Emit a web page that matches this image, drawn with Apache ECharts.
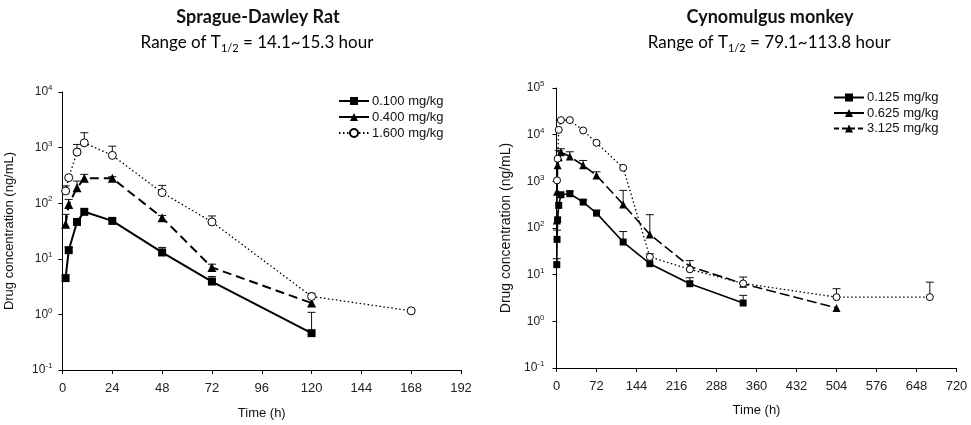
<!DOCTYPE html>
<html>
<head>
<meta charset="utf-8">
<script src="https://cdn.jsdelivr.net/npm/echarts@6/dist/echarts.min.js"></script>
<style>
html,body{margin:0;padding:0;background:#fff;}
#c{width:971px;height:425px;}
</style>
</head>
<body>
<div id="c"></div>
<script>
// ---------- Sprague-Dawley Rat ----------
const ratNames = ['0.100 mg/kg', '0.400 mg/kg', '1.600 mg/kg'];
const ratTime = [1.5, 3, 7, 10.5, 24, 48, 72, 120];
const ratTimeHigh = [1.5, 3, 7, 10.5, 24, 48, 72, 120, 168];
const ratLow = [4.5, 14.3, 46, 70, 48, 13, 3.9, 0.46];
const ratLowErr = [null, 16, null, null, null, 16, 4.8, 1.09];
const ratMid = [42, 95, 190, 280, 280, 55, 7, 1.6];
const ratMidErr = [63, 117, 250, 330, 300, 60, 8, null];
const ratHigh = [166, 288, 830, 1220, 725, 155, 46, 2.1, 1.16];
const ratHighErr = [205, null, 1140, 1850, 1060, 209, 59, 2.4, null];
const ratXTicks = [0, 24, 48, 72, 96, 120, 144, 168, 192];

// ---------- Cynomulgus monkey ----------
const monNames = ['0.125 mg/kg', '0.625 mg/kg', '3.125 mg/kg'];
const monTimeLow = [0.5, 1, 2, 4, 8, 24, 48, 72, 120, 168, 240, 336];
const monLow = [16.4, 57, 150, 305, 516, 542, 359, 208, 50, 17.2, 6.4, 2.47];
const monLowErr = [22, 90, null, null, null, 620, 400, 240, 84, null, 8.6, 3.6];
const monTimeMid = [0.5, 1, 2, 4, 8, 24, 48, 72, 120, 168, 240, 336, 504];
const monMid = [145, 600, 2200, 3300, 4200, 3400, 2200, 1340, 320, 73, 15, 6.4, 1.93];
const monMidErr = [null, null, null, 4600, 5000, 4300, 2800, 1600, 640, 193, 20, 8.9, null];
const monTimeHigh = [1, 2, 4, 8, 24, 48, 72, 120, 168, 240, 336, 504, 672];
const monHigh = [1050, 3050, 12700, 20500, 20500, 12300, 6700, 1950, 24, 13, 6.5, 3.3, 3.3];
const monHighErr = [null, null, null, null, null, null, null, null, 28, null, null, 5, 6.9];
const monXTicks = [0, 72, 144, 216, 288, 360, 432, 504, 576, 648, 720];

function pairs(t, v) { return t.map((x, i) => [x, v[i]]); }
function errPairs(t, v, e) {
  const out = [];
  t.forEach((x, i) => { if (e[i] != null) out.push([x, v[i], e[i]]); });
  return out;
}
function errRender(params, api) {
  const x = api.value(0), v = api.value(1), u = api.value(2);
  const p1 = api.coord([x, v]);
  const p2 = api.coord([x, u]);
  return {
    type: 'group',
    children: [
      { type: 'line', shape: { x1: p1[0], y1: p1[1], x2: p2[0], y2: p2[1] }, style: { stroke: '#111', lineWidth: 1 } },
      { type: 'line', shape: { x1: p2[0] - 4, y1: p2[1], x2: p2[0] + 4, y2: p2[1] }, style: { stroke: '#111', lineWidth: 1 } }
    ]
  };
}
function errSeries(t, v, e, idx) {
  return {
    type: 'custom', xAxisIndex: idx, yAxisIndex: idx, z: 1, silent: true,
    renderItem: errRender, encode: { x: 0, y: 1 },
    data: errPairs(t, v, e)
  };
}
const supLabel = {
  formatter: function (val) {
    const e = Math.round(Math.log10(val));
    return '{b|10}{s|' + e + '}';
  },
  rich: {
    b: { fontSize: 12, fontFamily: 'Liberation Sans', color: '#222', lineHeight: 16 },
    s: { fontSize: 8, fontFamily: 'Liberation Sans', color: '#222', verticalAlign: 'top', lineHeight: 10 }
  }
};
const axisLine = { show: true, lineStyle: { color: '#000', width: 1 } };
const axisTick = { show: true, length: 4, lineStyle: { color: '#000' } };
const nameStyle = { fontFamily: 'Liberation Sans', fontSize: 13, color: '#111' };

const chart = echarts.init(document.getElementById('c'), null, { renderer: 'canvas' });

const legendText = { fontFamily: 'Liberation Sans', fontSize: 13, color: '#111', padding: [0, 0, 0, -2] };
const subRich = {
  a: { fontFamily: 'Lato', fontSize: 17, color: '#111', lineHeight: 22 },
  b: { fontFamily: 'Lato', fontSize: 11, color: '#111', verticalAlign: 'bottom', lineHeight: 16 }
};
const option = {
  animation: false,
  backgroundColor: '#fff',
  graphic: [
    { type: 'text', x: 258, y: 17, style: { text: 'Sprague-Dawley Rat', font: 'bold 18px Lato', fill: '#111', align: 'center', verticalAlign: 'middle' } },
    { type: 'text', x: 257, y: 43, style: { text: '{a|Range of T}{b|1/2}{a| = 14.1~15.3 hour}', align: 'center', verticalAlign: 'middle', rich: subRich } },
    { type: 'text', x: 770, y: 17, style: { text: 'Cynomulgus monkey', font: 'bold 18px Lato', fill: '#111', align: 'center', verticalAlign: 'middle' } },
    { type: 'text', x: 769, y: 43, style: { text: '{a|Range of T}{b|1/2}{a| = 79.1~113.8 hour}', align: 'center', verticalAlign: 'middle', rich: subRich } }
  ],
  legend: [
    {
      orient: 'vertical', left: 333, top: 89.5, itemWidth: 30, itemHeight: 10, itemGap: 3,
      textStyle: legendText,
      data: [
        { name: ratNames[0] },
        { name: ratNames[1], lineStyle: { type: 'solid' } },
        { name: ratNames[2] }
      ]
    },
    {
      orient: 'vertical', left: 828, top: 86, itemWidth: 30, itemHeight: 10, itemGap: 2.5,
      textStyle: legendText,
      data: [
        { name: monNames[0] },
        { name: monNames[1], lineStyle: { type: 'solid' } },
        { name: monNames[2] }
      ]
    }
  ],
  grid: [
    { left: 62.5, top: 92, width: 398.5, height: 279 },
    { left: 556.5, top: 88, width: 400, height: 280 }
  ],
  xAxis: [
    {
      gridIndex: 0, type: 'value', min: ratXTicks[0], max: ratXTicks[ratXTicks.length - 1], interval: 24,
      name: 'Time (h)', nameLocation: 'middle', nameGap: 37, nameTextStyle: nameStyle,
      axisLine: axisLine, axisTick: axisTick, splitLine: { show: false },
      axisLabel: { fontFamily: 'Liberation Sans', fontSize: 13, color: '#222', margin: 12 }
    },
    {
      gridIndex: 1, type: 'value', min: monXTicks[0], max: monXTicks[monXTicks.length - 1], interval: 72,
      name: 'Time (h)', nameLocation: 'middle', nameGap: 36, nameTextStyle: nameStyle,
      axisLine: axisLine, axisTick: axisTick, splitLine: { show: false },
      axisLabel: { fontFamily: 'Liberation Sans', fontSize: 13, color: '#222', margin: 12 }
    }
  ],
  yAxis: [
    {
      gridIndex: 0, type: 'log', logBase: 10, min: 0.1, max: 10000,
      name: 'Drug concentration (ng/mL)', nameLocation: 'middle', nameGap: 47, nameTextStyle: nameStyle,
      axisLine: axisLine, axisTick: axisTick, splitLine: { show: false }, minorTick: { show: false },
      axisLabel: Object.assign({ margin: 10 }, supLabel)
    },
    {
      gridIndex: 1, type: 'log', logBase: 10, min: 0.1, max: 100000,
      name: 'Drug concentration (ng/mL)', nameLocation: 'middle', nameGap: 43, nameTextStyle: Object.assign({}, nameStyle, { fontSize: 14 }),
      axisLine: axisLine, axisTick: axisTick, splitLine: { show: false }, minorTick: { show: false },
      axisLabel: Object.assign({ margin: 12 }, supLabel)
    }
  ],
  series: [
    errSeries(ratTime, ratLow, ratLowErr, 0),
    errSeries(ratTime, ratMid, ratMidErr, 0),
    errSeries(ratTimeHigh, ratHigh, ratHighErr, 0),
    errSeries(monTimeLow, monLow, monLowErr, 1),
    errSeries(monTimeMid, monMid, monMidErr, 1),
    errSeries(monTimeHigh, monHigh, monHighErr, 1),
    {
      name: ratNames[0], type: 'line', xAxisIndex: 0, yAxisIndex: 0, z: 3,
      data: pairs(ratTime, ratLow), symbol: 'rect', symbolSize: 8,
      lineStyle: { color: '#000', width: 2 }, itemStyle: { color: '#000' }
    },
    {
      name: ratNames[1], type: 'line', xAxisIndex: 0, yAxisIndex: 0, z: 4,
      data: pairs(ratTime, ratMid), symbol: 'triangle', symbolSize: 9,
      lineStyle: { color: '#000', width: 2, type: [9, 5] }, itemStyle: { color: '#000' }
    },
    {
      name: ratNames[2], type: 'line', xAxisIndex: 0, yAxisIndex: 0, z: 5,
      data: pairs(ratTimeHigh, ratHigh), symbol: 'circle', symbolSize: 8,
      lineStyle: { color: '#000', width: 1.3, type: [1.5, 2.5] },
      itemStyle: { color: '#fff', borderColor: '#000', borderWidth: 1 }
    },
    {
      name: monNames[0], type: 'line', xAxisIndex: 1, yAxisIndex: 1, z: 3,
      data: pairs(monTimeLow, monLow), symbol: 'rect', symbolSize: 7,
      lineStyle: { color: '#000', width: 1.6 }, itemStyle: { color: '#000' }
    },
    {
      name: monNames[1], type: 'line', xAxisIndex: 1, yAxisIndex: 1, z: 4,
      data: pairs(monTimeMid, monMid), symbol: 'triangle', symbolSize: 8,
      lineStyle: { color: '#000', width: 1.6, type: [10, 4] }, itemStyle: { color: '#000' }
    },
    {
      // legend key as printed in the source figure (dashed line, filled triangle)
      name: monNames[2], type: 'line', xAxisIndex: 1, yAxisIndex: 1, z: 2,
      data: [], symbol: 'triangle', symbolSize: 8,
      lineStyle: { color: '#000', width: 1.6, type: [5, 3] }, itemStyle: { color: '#000' }
    },
    {
      name: monNames[2], type: 'line', xAxisIndex: 1, yAxisIndex: 1, z: 5,
      data: pairs(monTimeHigh, monHigh), symbol: 'circle', symbolSize: 7,
      lineStyle: { color: '#000', width: 1.3, type: [1.5, 2.5] },
      itemStyle: { color: '#fff', borderColor: '#000', borderWidth: 1 }
    }
  ]
};
chart.setOption(option);
</script>
</body>
</html>
